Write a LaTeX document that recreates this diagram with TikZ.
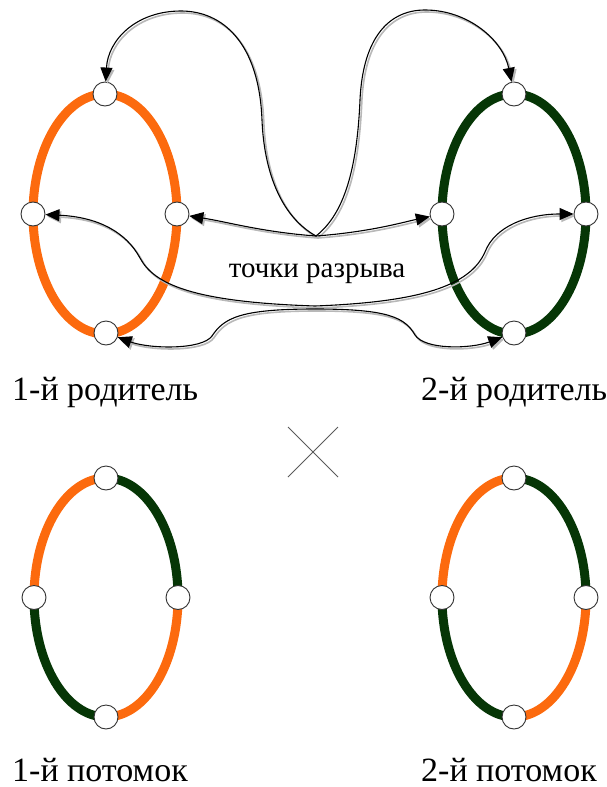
\documentclass[tikz,border=0pt]{standalone}
\usepackage{fontspec}
\setmainfont{Liberation Serif}
\usetikzlibrary{arrows.meta}

\definecolor{ringorange}{RGB}{252,106,14}
\definecolor{ringgreen}{RGB}{6,54,6}
\definecolor{crossgray}{RGB}{90,90,90}

\tikzset{
  ring/.style={line width=9pt},
  orangering/.style={ring, draw=ringorange},
  greenring/.style={ring, draw=ringgreen},
  cutpoint/.style={circle, draw=black!80, fill=white, line width=0.9pt,
                   minimum size=24pt, inner sep=0pt},
  tip/.style={-{Triangle[length=14pt,width=12pt]}},
  bothtips/.style={{Triangle[length=14pt,width=12pt]}-{Triangle[length=14pt,width=12pt]}},
  link/.style={draw=black, line width=1.1pt},
  linkshade/.style={draw=black!28, line width=1.6pt,
                    transform canvas={shift={(1.8pt,-2pt)}}},
  caption/.style={font=\fontsize{34}{40}\selectfont, inner sep=0pt, anchor=base west},
  midtext/.style={font=\fontsize{29}{34}\selectfont, inner sep=0pt, anchor=base}
}

% a connector with a soft grey drop shadow under it
\newcommand\linkdraw[2][]{%
  \draw[linkshade,#1] #2;
  \draw[link,#1] #2;}

\begin{document}
\begin{tikzpicture}[x=1pt,y=-1pt]
\useasboundingbox (0,0) rectangle (607,787);

% ---- parents ----
\draw[orangering] (105,214) ellipse [x radius=72, y radius=120];
\draw[greenring]  (514,214) ellipse [x radius=72, y radius=120];

% ---- offspring: quarter arcs (angle -90 = top, 0 = right, 90 = bottom, 180 = left)
\draw[orangering] (106,478) arc[start angle=-90, end angle=-180, x radius=72, y radius=119.5];
\draw[greenring]  (106,478) arc[start angle=-90, end angle=0,    x radius=72, y radius=119.5];
\draw[orangering] (178,597.5) arc[start angle=0,  end angle=90,  x radius=72, y radius=119.5];
\draw[greenring]  (34,597.5)  arc[start angle=180, end angle=90, x radius=72, y radius=119.5];

\draw[orangering] (514,478) arc[start angle=-90, end angle=-180, x radius=72, y radius=119.5];
\draw[greenring]  (514,478) arc[start angle=-90, end angle=0,    x radius=72, y radius=119.5];
\draw[orangering] (586,597.5) arc[start angle=0,  end angle=90,  x radius=72, y radius=119.5];
\draw[greenring]  (442,597.5) arc[start angle=180, end angle=90, x radius=72, y radius=119.5];

% ---- cut points: parents ----
\node[cutpoint] (p1t) at (105,94) {};
\node[cutpoint] (p1l) at (33,214) {};
\node[cutpoint] (p1r) at (177,214) {};
\node[cutpoint] (p1b) at (106,333) {};

\node[cutpoint] (p2t) at (514,94) {};
\node[cutpoint] (p2l) at (442,214) {};
\node[cutpoint] (p2r) at (586,214) {};
\node[cutpoint] (p2b) at (514,333) {};

% ---- cut points: offspring ----
\node[cutpoint] (c1t) at (106,478) {};
\node[cutpoint] (c1l) at (34,597.5) {};
\node[cutpoint] (c1r) at (178,597.5) {};
\node[cutpoint] (c1b) at (106,717) {};

\node[cutpoint] (c2t) at (514,478) {};
\node[cutpoint] (c2l) at (442,597.5) {};
\node[cutpoint] (c2r) at (586,597.5) {};
\node[cutpoint] (c2b) at (514,717) {};

\coordinate (v)  at (316,236);
\coordinate (mu) at (315,306);
\coordinate (ml) at (315,309);

% ---- connectors ----
\linkdraw[tip]{(v) .. controls (280,216) and (264,170) .. (262,120)
               .. controls (259,42) and (222,11) .. (181,11)
               .. controls (136,11) and (108,40) .. (p1t)}
\linkdraw[tip]{(v) .. controls (344,214) and (357,170) .. (360,100)
               .. controls (363,36) and (390,10) .. (425,10)
               .. controls (468,10) and (503,40) .. (p2t)}
\linkdraw[tip]{(v) .. controls (262,232) and (228,222) .. (p1r)}
\linkdraw[tip]{(v) .. controls (370,232) and (404,222) .. (p2l)}

\linkdraw[bothtips]{(p1l) .. controls (98,217) and (126,232) .. (140,258)
               .. controls (154,284) and (192,302) .. (mu)
               .. controls (420,302) and (470,286) .. (485,252)
               .. controls (495,226) and (528,214) .. (p2r)}
\linkdraw[bothtips]{(p1b) .. controls (150,349) and (202,350) .. (212,336)
               .. controls (224,318) and (240,309) .. (ml)
               .. controls (390,309) and (405,318) .. (415,335)
               .. controls (425,350) and (470,349) .. (p2b)}

% ---- texts ----
\node[midtext] (breaks) at (317,277) {точки разрыва};
\node[caption] (par1) at (12,400) {1-й родитель};
\node[caption] (par2) at (421,400) {2-й родитель};
\node[caption] (kid1) at (12,781) {1-й потомок};
\node[caption] (kid2) at (421,781) {2-й потомок};

% ---- crossover sign ----
\coordinate (crossc) at (313,452);
\draw[crossgray, line width=1pt]
  ([shift={(-25,-25)}]crossc) -- ([shift={(25,25)}]crossc)
  ([shift={(25,-25)}]crossc) -- ([shift={(-25,25)}]crossc);
\end{tikzpicture}
\end{document}
